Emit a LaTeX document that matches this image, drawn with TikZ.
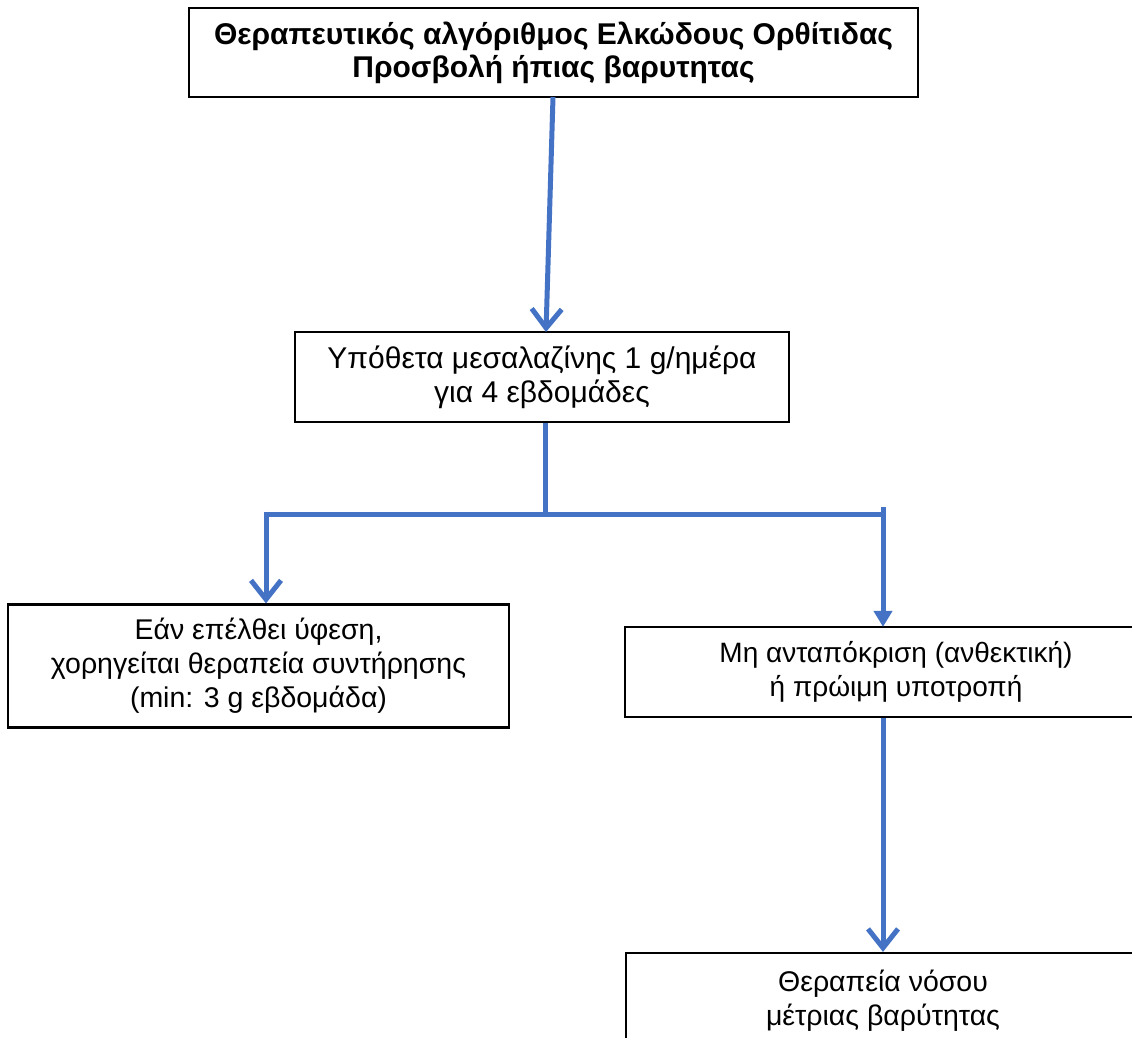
\documentclass[tikz,border=0pt]{standalone}
\usepackage{fontspec}
\setmainfont{Liberation Sans}
\usetikzlibrary{arrows.meta}
\definecolor{officeblue}{HTML}{4472C4}
\tikzset{
  box/.style={draw=black, line width=2.2pt, fill=white, align=center, inner sep=0pt,
    font=\fontsize{30}{34}\selectfont},
  smallbox/.style={box, font=\fontsize{28.5}{34}\selectfont},
  link/.style={draw=officeblue, line width=5pt},
  barb/.style={link, -{Straight Barb[length=19pt, width=30pt, line width=5pt]}},
  tri/.style={link, -{Triangle[length=16pt, width=18pt]}, shorten >=-1pt}
}
\begin{document}
\begin{tikzpicture}[x=1pt, y=-1pt]
\useasboundingbox (0,0) rectangle (1132,1038);
\clip (0,0) rectangle (1132,1038);
\fill[white] (0,0) rectangle (1132,1038);
% nodes (centres and sizes from the reference, in pixels)
\node[box, minimum width=729pt, minimum height=89pt, font=\fontsize{30}{33}\selectfont\bfseries]
  (top) at (553.5,52.5) {Θεραπευτικός αλγόριθμος Ελκώδους Ορθίτιδας\\Προσβολή ήπιας βαρυτητας};
\node[box, minimum width=494pt, minimum height=90pt]
  (mid) at (542,377) {Υπόθετα μεσαλαζίνης 1 g/ημέρα\\για 4 εβδομάδες};
\node[smallbox, minimum width=501pt, minimum height=123pt]
  (left) at (258.5,666) {Εάν επέλθει ύφεση,\\χορηγείται θεραπεία συντήρησης\\(min: 3 g εβδομάδα)};
\node[smallbox, minimum width=542pt, minimum height=90pt, font=\fontsize{28}{34}\selectfont]
  (right) at (896,672) {Μη ανταπόκριση (ανθεκτική)\\ή πρώιμη υποτροπή};
\node[smallbox, minimum width=514pt, minimum height=96pt]
  (bottom) at (883,1001) {Θεραπεία νόσου\\μέτριας βαρύτητας};
% connectors
\coordinate (ttail) at (553,97);
\draw[barb] (ttail) -- (546,332);
\coordinate (sp) at (545,514);
\coordinate (sl) at (266,514);
\coordinate (sr) at (883,514);
\coordinate (srtop) at (883,507);
\draw[link] (mid.south -| sp) -- (sp);
\draw[link] (sl) -- (sr);
\draw[barb] ([yshift=2.5pt]sl) -- (sl |- left.north);
\draw[tri] (srtop) -- (srtop |- right.north);
\draw[barb] (right.south -| sr) -- (sr |- bottom.north);
\end{tikzpicture}
\end{document}
